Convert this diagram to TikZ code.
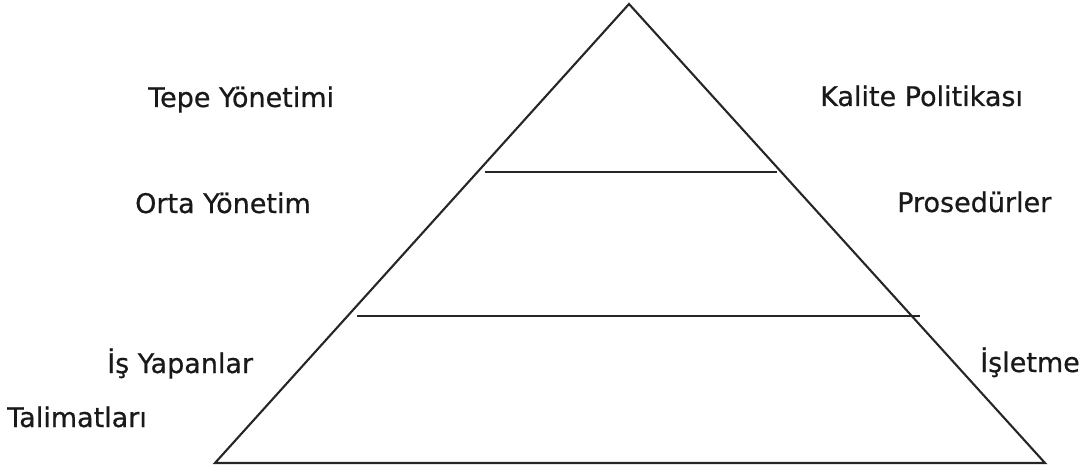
\documentclass[tikz,border=0pt]{standalone}
\usepackage{fontspec}
\setmainfont{DejaVu Sans}[FakeBold=0.6]
\begin{document}
\begin{tikzpicture}[x=1pt,y=-1pt,
  lbl/.style={anchor=base west,inner sep=0pt,font=\fontsize{27}{32}\selectfont,text=black!90},
  edge/.style={line width=2.1pt,draw=black!85,line join=miter}]
\useasboundingbox (0,0) rectangle (1086,473);
\coordinate (apex) at (629,4);
\coordinate (bl) at (215,463);
\coordinate (br) at (1045,463);
\coordinate (l1a) at (485,172);
\coordinate (l1b) at (777,172);
\coordinate (l2a) at (357,316);
\coordinate (l2b) at (920,316);
\draw[edge] (bl) -- (apex) -- (br) -- cycle;
\draw[edge] (l1a) -- (l1b);
\draw[edge] (l2a) -- (l2b);
\node[lbl] (tepe) at (148,107) {Tepe Yönetimi};
\node[lbl] (kalite) at (820,106) {Kalite Politikası};
\node[lbl] (orta) at (135,213) {Orta Yönetim};
\node[lbl] (pros) at (897,212) {Prosedürler};
\node[lbl] (is) at (107,373) {İş Yapanlar};
\node[lbl] (tal) at (7,427) {Talimatları};
\node[lbl] (islet) at (980,372) {İşletme};
\end{tikzpicture}
\end{document}
